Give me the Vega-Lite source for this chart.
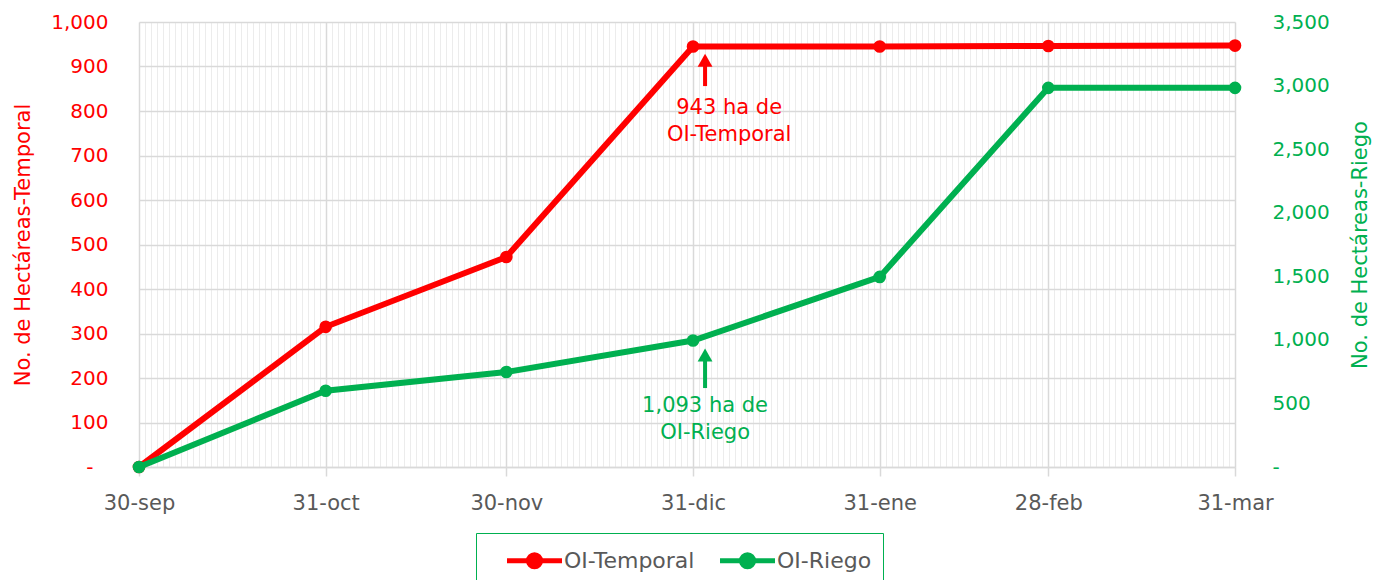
{
  "$schema": "https://vega.github.io/schema/vega-lite/v6.json",
  "width": 1096,
  "height": 445,
  "autosize": {"type": "none"},
  "padding": {"left": 139, "top": 22, "right": 138, "bottom": 113},
  "background": "white",
  "config": {
    "font": "DejaVu Sans",
    "view": {"stroke": null},
    "axis": {"labelFont": "DejaVu Sans", "titleFont": "DejaVu Sans", "labelFontSize": 20, "titleFontSize": 21, "titleFontWeight": "normal", "domain": false, "ticks": false, "grid": false},
    "axisLeft": {"labelColor": "#ff0000", "titleColor": "#ff0000", "titlePadding": 17},
    "axisRight": {"labelColor": "#00b050", "titleColor": "#00b050", "labelPadding": 37, "titlePadding": 41}
  },
  "layer": [
    {
      "encoding": {
        "x": {
          "field": "fecha", "type": "temporal", "title": null,
          "scale": {"type": "utc", "domain": [{"year": 2022, "month": 9, "date": 30, "utc": true}, {"year": 2023, "month": 3, "date": 31, "utc": true}]},
          "axis": {"orient": "bottom", "labels": false, "ticks": false, "domain": false, "grid": true, "gridColor": "#ececec", "gridWidth": 1, "tickCount": {"interval": "day", "step": 1}, "title": null}
        }
      },
      "layer": [
        {
          "data": {"values": [
            {"fecha": "2022-09-30", "serie": "OI-Temporal", "valor": 0},
            {"fecha": "2022-10-31", "serie": "OI-Temporal", "valor": 315},
            {"fecha": "2022-11-30", "serie": "OI-Temporal", "valor": 472},
            {"fecha": "2022-12-31", "serie": "OI-Temporal", "valor": 945},
            {"fecha": "2023-01-31", "serie": "OI-Temporal", "valor": 945},
            {"fecha": "2023-02-28", "serie": "OI-Temporal", "valor": 946},
            {"fecha": "2023-03-31", "serie": "OI-Temporal", "valor": 947}
          ]},
          "mark": {"type": "line", "strokeWidth": 6, "point": {"filled": true, "size": 160, "opacity": 1}},
          "encoding": {
            "y": {
              "field": "valor", "type": "quantitative", "title": "No. de Hectáreas-Temporal",
              "scale": {"domain": [0, 1000]},
              "axis": {
                "orient": "left", "values": [0, 100, 200, 300, 400, 500, 600, 700, 800, 900, 1000],
                "grid": true, "gridColor": "#d9d9d9", "gridWidth": 1.5,
                "labelPadding": {"condition": {"test": "datum.value === 0", "value": 46}, "value": 31},
                "labelExpr": "datum.value === 0 ? '-' : format(datum.value, ',')"
              }
            },
            "color": {
              "field": "serie", "type": "nominal",
              "scale": {"domain": ["OI-Temporal", "OI-Riego"], "range": ["#ff0000", "#00b050"]},
              "legend": {
                "orient": "none", "legendX": 337, "legendY": 511, "direction": "horizontal", "title": null,
                "strokeColor": "#00b050", "padding": 11,
                "symbolType": "M-2,0H2M-0.44,0a0.44,0.44 0 1,0 0.88,0a0.44,0.44 0 1,0 -0.88,0",
                "symbolSize": 756, "symbolStrokeWidth": 5, "symbolOffset": 31, "labelOffset": 13, "columnPadding": 5,
                "labelFontSize": 22, "labelColor": "#595959", "labelFont": "DejaVu Sans",
                "encode": {"symbols": {"update": {"fill": {"scale": "color", "field": "value"}, "stroke": {"scale": "color", "field": "value"}, "opacity": {"value": 1}}}}
              }
            }
          }
        },
        {
          "data": {"values": [{"fecha": "2023-01-02", "y0": 856, "y1": 914}]},
          "mark": {"type": "rule", "color": "#ff0000", "strokeWidth": 4},
          "encoding": {
            "y": {"field": "y0", "type": "quantitative", "scale": {"domain": [0, 1000]}, "title": "No. de Hectáreas-Temporal"},
            "y2": {"field": "y1"}
          }
        },
        {
          "data": {"values": [{"fecha": "2023-01-02", "y0": 856, "y1": 914}]},
          "mark": {"type": "point", "shape": "triangle-up", "filled": true, "size": 220, "color": "#ff0000", "opacity": 1},
          "encoding": {
            "y": {"field": "y1", "type": "quantitative", "scale": {"domain": [0, 1000]}, "title": "No. de Hectáreas-Temporal"}
          }
        },
        {
          "data": {"values": [{"fecha": "2023-01-06", "yt": 807, "label": "943 ha de\nOI-Temporal"}]},
          "mark": {"type": "text", "color": "#ff0000", "fontSize": 21, "lineBreak": "\n", "lineHeight": 27, "align": "center", "baseline": "middle"},
          "encoding": {
            "y": {"field": "yt", "type": "quantitative", "scale": {"domain": [0, 1000]}, "title": "No. de Hectáreas-Temporal"},
            "text": {"field": "label"}
          }
        }
      ]
    },
    {
      "encoding": {
        "x": {
          "field": "fecha", "type": "temporal", "title": null,
          "scale": {"type": "utc", "domain": [{"year": 2022, "month": 9, "date": 30, "utc": true}, {"year": 2023, "month": 3, "date": 31, "utc": true}]},
          "axis": {
            "orient": "bottom", "title": null,
            "values": [
              {"year": 2022, "month": 9, "date": 30, "utc": true},
              {"year": 2022, "month": 10, "date": 31, "utc": true},
              {"year": 2022, "month": 11, "date": 30, "utc": true},
              {"year": 2022, "month": 12, "date": 31, "utc": true},
              {"year": 2023, "month": 1, "date": 31, "utc": true},
              {"year": 2023, "month": 2, "date": 28, "utc": true},
              {"year": 2023, "month": 3, "date": 31, "utc": true}
            ],
            "labelExpr": "utcFormat(datum.value, '%d') + '-' + ['ene','feb','mar','abr','may','jun','jul','ago','sep','oct','nov','dic'][utcmonth(datum.value)]",
            "labelFlush": false, "labelOverlap": false,
            "grid": true, "gridColor": "#d9d9d9", "gridWidth": 1.5,
            "ticks": true, "tickSize": 9, "tickColor": "#d9d9d9", "tickWidth": 1.5,
            "domain": true, "domainColor": "#d9d9d9", "domainWidth": 1.5,
            "labelPadding": 16, "labelColor": "#595959", "labelFontSize": 21
          }
        }
      },
      "layer": [
        {
          "data": {"values": [
            {"fecha": "2022-09-30", "serie": "OI-Riego", "valor": 0},
            {"fecha": "2022-10-31", "serie": "OI-Riego", "valor": 600},
            {"fecha": "2022-11-30", "serie": "OI-Riego", "valor": 747},
            {"fecha": "2022-12-31", "serie": "OI-Riego", "valor": 995},
            {"fecha": "2023-01-31", "serie": "OI-Riego", "valor": 1495},
            {"fecha": "2023-02-28", "serie": "OI-Riego", "valor": 2982},
            {"fecha": "2023-03-31", "serie": "OI-Riego", "valor": 2982}
          ]},
          "mark": {"type": "line", "strokeWidth": 6, "point": {"filled": true, "size": 160, "opacity": 1}},
          "encoding": {
            "y": {
              "field": "valor", "type": "quantitative", "title": "No. de Hectáreas-Riego",
              "scale": {"domain": [0, 3500]},
              "axis": {"orient": "right", "values": [0, 500, 1000, 1500, 2000, 2500, 3000, 3500], "grid": false, "titleAngle": 270, "labelExpr": "datum.value === 0 ? '-' : format(datum.value, ',')"}
            },
            "color": {"field": "serie", "type": "nominal"}
          }
        },
        {
          "data": {"values": [{"fecha": "2023-01-02", "y0": 621, "y1": 881}]},
          "mark": {"type": "rule", "color": "#00b050", "strokeWidth": 4},
          "encoding": {
            "y": {"field": "y0", "type": "quantitative", "scale": {"domain": [0, 3500]}, "title": "No. de Hectáreas-Riego"},
            "y2": {"field": "y1"}
          }
        },
        {
          "data": {"values": [{"fecha": "2023-01-02", "y0": 621, "y1": 881}]},
          "mark": {"type": "point", "shape": "triangle-up", "filled": true, "size": 220, "color": "#00b050", "opacity": 1},
          "encoding": {
            "y": {"field": "y1", "type": "quantitative", "scale": {"domain": [0, 3500]}, "title": "No. de Hectáreas-Riego"}
          }
        },
        {
          "data": {"values": [{"fecha": "2023-01-02", "yt": 479, "label": "1,093 ha de\nOI-Riego"}]},
          "mark": {"type": "text", "color": "#00b050", "fontSize": 21, "lineBreak": "\n", "lineHeight": 27, "align": "center", "baseline": "middle"},
          "encoding": {
            "y": {"field": "yt", "type": "quantitative", "scale": {"domain": [0, 3500]}, "title": "No. de Hectáreas-Riego"},
            "text": {"field": "label"}
          }
        }
      ]
    }
  ],
  "resolve": {"scale": {"y": "independent"}, "axis": {"x": "independent", "y": "independent"}}
}
